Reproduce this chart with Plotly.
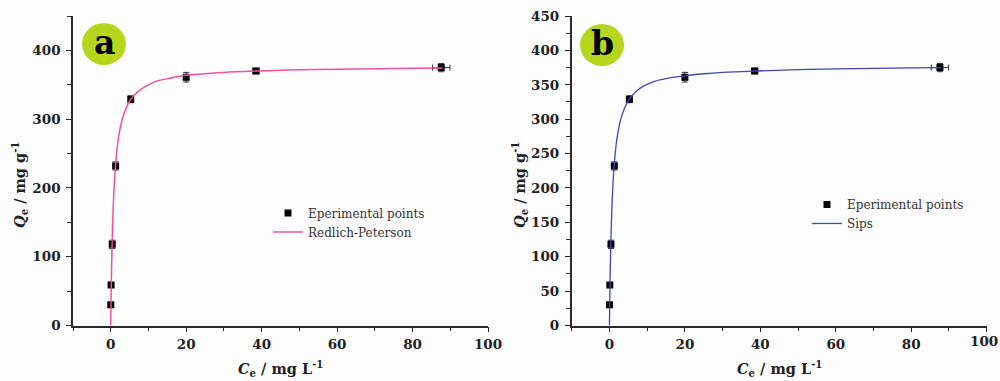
import plotly.graph_objects as go

# ---------------- data ----------------
ce_points = [0.02, 0.1, 0.4, 1.3, 5.3, 20.0, 38.5, 87.6]
qe_points = [30, 59, 118, 232, 329, 361, 370, 375]
qe_err = [1.5, 2, 6, 6, 5, 7, 4, 6]
ce_err = [0.1, 0.1, 0.3, 0.4, 0.5, 0.5, 0.8, 2.3]

# fitted curves
ce_fit = [0, 0.1, 0.25, 0.5, 0.8, 1.2, 1.7, 2.3, 3, 4, 5.3, 7, 9, 12, 16, 20,
          25, 30, 38.5, 50, 65, 80, 88]
qe_fit_rp = [0, 42, 90, 146, 190, 227, 258, 281, 299, 315, 329, 339, 347, 355,
             360, 364, 366, 368, 370, 372, 373, 374, 374.5]
qe_fit_sips = [0, 40, 88, 145, 190, 228, 259, 282, 300, 316, 329, 340, 348, 355,
               360, 363, 366, 368, 370, 372, 373.5, 374.5, 375]

x_ticks = [0, 20, 40, 60, 80, 100]
y_ticks_a = [0, 100, 200, 300, 400]
y_ticks_b = [0, 50, 100, 150, 200, 250, 300, 350, 400, 450]

W, H = 1000, 381
SERIF = "DejaVu Serif"
AXCOL = "#2a2a2a"
PINK = "#f2509f"
BLUE = "#4444b4"
LIME = "#b6d61e"


def px(x):
    return x / W


def py(y):
    return 1 - y / H


def bold(vals):
    return ["<b>%s</b>" % v for v in vals]


fig = go.Figure()

# panel a
fig.add_trace(go.Scatter(
    x=ce_points, y=qe_points, mode="markers", name="Eperimental points",
    marker=dict(symbol="square", size=7, color="black"),
    error_y=dict(type="data", array=qe_err, color="#333", thickness=1, width=3),
    error_x=dict(type="data", array=ce_err, color="#333", thickness=1, width=3),
    xaxis="x", yaxis="y", legend="legend"))
fig.add_trace(go.Scatter(
    x=ce_fit, y=qe_fit_rp, mode="lines", name="Redlich-Peterson",
    line=dict(color=PINK, width=1.5, shape="spline", smoothing=1.0),
    xaxis="x", yaxis="y", legend="legend"))

# panel b
fig.add_trace(go.Scatter(
    x=ce_points, y=qe_points, mode="markers", name="Eperimental points",
    marker=dict(symbol="square", size=7, color="black"),
    error_y=dict(type="data", array=qe_err, color="#333", thickness=1, width=3),
    error_x=dict(type="data", array=ce_err, color="#333", thickness=1, width=3),
    xaxis="x2", yaxis="y2", legend="legend2"))
fig.add_trace(go.Scatter(
    x=ce_fit, y=qe_fit_sips, mode="lines", name="Sips",
    line=dict(color=BLUE, width=1.3, shape="spline", smoothing=1.0),
    xaxis="x2", yaxis="y2", legend="legend2"))

tickfont = dict(family=SERIF, size=13.5, color="#222")
common_x = dict(range=[-10, 100], tickvals=x_ticks,
                showline=True, linecolor=AXCOL,
                linewidth=1.5, ticks="outside", ticklen=5, tickwidth=1.3,
                tickcolor=AXCOL, showgrid=False, zeroline=False, tickfont=tickfont,
                minor=dict(dtick=10, ticks="outside", ticklen=4, tickwidth=1.2,
                           tickcolor=AXCOL, showgrid=False),
                ticklabelstandoff=1, automargin=False, ticklabeloverflow="allow")
common_y = dict(range=[0, 450], showline=True, linecolor=AXCOL, linewidth=1.5,
                ticks="outside", ticklen=5, tickwidth=1.3, tickcolor=AXCOL,
                showgrid=False, zeroline=False, tickfont=tickfont,
                ticklabelstandoff=3, automargin=False, ticklabeloverflow="allow")

# right panel: last x label (at the figure edge) is written as an annotation
x_text_b = bold(x_ticks[:-1]) + [""]

y_dom = [py(325.5), py(16)]
fig.update_layout(
    width=W, height=H,
    margin=dict(l=0, r=0, t=0, b=0, autoexpand=False),
    paper_bgcolor="#fdfdfd", plot_bgcolor="#fdfdfd",
    showlegend=True,
    xaxis=dict(domain=[px(73), px(488)], anchor="y", ticktext=bold(x_ticks), **common_x),
    yaxis=dict(domain=y_dom, anchor="x", tickvals=y_ticks_a, ticktext=bold(y_ticks_a),
               minor=dict(dtick=50, ticks="outside", ticklen=4, tickwidth=1.2,
                          tickcolor=AXCOL, showgrid=False),
               **common_y),
    xaxis2=dict(domain=[px(571.7), px(986.7)], anchor="y2", ticktext=x_text_b, **common_x),
    yaxis2=dict(domain=y_dom, anchor="x2", tickvals=y_ticks_b, ticktext=bold(y_ticks_b),
                minor=dict(dtick=25, ticks="outside", ticklen=4, tickwidth=1.2,
                           tickcolor=AXCOL, showgrid=False),
                **common_y),
    legend=dict(x=px(268), y=py(222.5), xanchor="left", yanchor="middle",
                bgcolor="rgba(0,0,0,0)", font=dict(family=SERIF, size=12, color="#333"),
                tracegroupgap=0),
    legend2=dict(x=px(807), y=py(214), xanchor="left", yanchor="middle",
                 bgcolor="rgba(0,0,0,0)", font=dict(family=SERIF, size=12, color="#333"),
                 tracegroupgap=0),
)

shapes = []
annotations = []
for cx, cy, letter in [(104, 44, "a"), (602, 45, "b")]:
    shapes.append(dict(type="circle", xref="paper", yref="paper",
                       x0=px(cx - 22), x1=px(cx + 22), y0=py(cy + 21), y1=py(cy - 21),
                       fillcolor=LIME, line=dict(width=0), layer="above"))
    annotations.append(dict(xref="paper", yref="paper", x=px(cx), y=py(cy - 1),
                            text="<b>%s</b>" % letter, showarrow=False,
                            xanchor="center", yanchor="middle",
                            font=dict(family=SERIF, size=33, color="black")))

annotations.append(dict(xref="paper", yref="paper", x=px(999), y=py(332),
                        text="<b>%s</b>" % x_ticks[-1], showarrow=False,
                        xanchor="right", yanchor="top", borderpad=0,
                        font=tickfont))

title_font = dict(family=SERIF, size=14.5, color="#222")
for cx in [280, 779]:
    annotations.append(dict(xref="paper", yref="paper", x=px(cx), y=0,
                            text="<b><i>C</i><sub>e</sub> / mg L<sup>-1</sup></b>",
                            showarrow=False, xanchor="center", yanchor="bottom",
                            font=title_font))
for cx in [20, 520]:
    annotations.append(dict(xref="paper", yref="paper", x=px(cx), y=py(185),
                            text="<b><i>Q</i><sub>e</sub> / mg g<sup>-1</sup></b>",
                            showarrow=False, xanchor="center", yanchor="middle",
                            textangle=-90, font=title_font))

fig.update_layout(shapes=shapes, annotations=annotations)
fig.write_html("out.html")
